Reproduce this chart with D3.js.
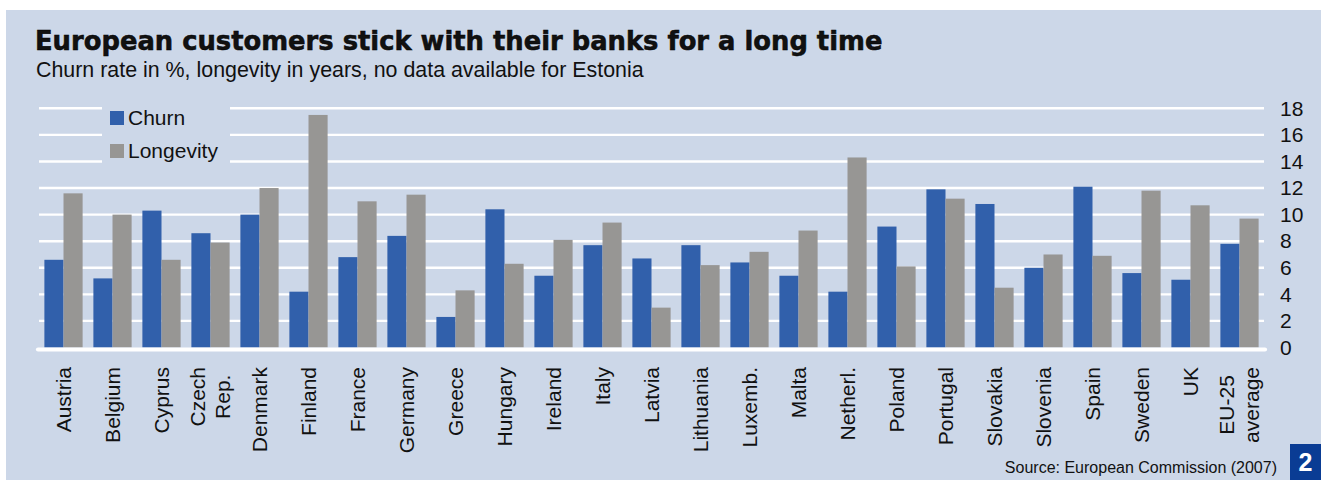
<!DOCTYPE html>
<meta charset="utf-8">
<style>
	body { margin: 0; background: #fff; }
	svg text { font-family: "Liberation Sans", Arial, sans-serif; fill: #111; }
	.title { font-family: "DejaVu Sans", sans-serif; font-weight: bold; stroke: #000; stroke-width: 0.5px; }
	.axis path { display: none; }
</style>
<body>
<script src="https://d3js.org/d3.v7.min.js"></script>
<script>

	// data
	var categories = ["Austria", "Belgium", "Cyprus", "Czech\nRep.", "Denmark", "Finland", "France", "Germany", "Greece",
		"Hungary", "Ireland", "Italy", "Latvia", "Lithuania", "Luxemb.", "Malta", "Netherl.", "Poland", "Portugal",
		"Slovakia", "Slovenia", "Spain", "Sweden", "UK", "EU-25\naverage"];
	var churn = [6.6, 5.2, 10.3, 8.6, 10.0, 4.2, 6.8, 8.4, 2.3, 10.4, 5.4, 7.7, 6.7, 7.7, 6.4, 5.4, 4.2, 9.1, 11.9,
		10.8, 6.0, 12.1, 5.6, 5.1, 7.8];
	var longevity = [11.6, 10.0, 6.6, 7.9, 12.0, 17.5, 11.0, 11.5, 4.3, 6.3, 8.1, 9.4, 3.0, 6.2, 7.2, 8.8, 14.3, 6.1, 11.2,
		4.5, 7.0, 6.9, 11.8, 10.7, 9.7];
	var seriesNames = ["Churn", "Longevity"];
	var yTicks = [0, 2, 4, 6, 8, 10, 12, 14, 16, 18];

	var colors = {"Churn": "#3160ab", "Longevity": "#979694"};
	var panelColor = "#ccd7e8";

	var W = 1321, H = 480;
	var plot = {left: 39, right: 1264, top: 108.3, bottom: 347.5};

	var rows = categories.map(function(c, i) {
		return {name: c, Churn: churn[i], Longevity: longevity[i]};
	});

	var svg = d3.select("body").append("svg")
		.attr("width", W)
		.attr("height", H);

	// background panel
	svg.append("rect")
		.attr("x", 6).attr("y", 10)
		.attr("width", W - 6).attr("height", H - 10)
		.attr("fill", panelColor);

	svg.append("text")
		.attr("class", "title")
		.attr("x", 35).attr("y", 50)
		.style("font-size", "25.8px")
		.text("European customers stick with their banks for a long time");

	svg.append("text")
		.attr("x", 36).attr("y", 77)
		.style("font-size", "21.4px")
		.text("Churn rate in %, longevity in years, no data available for Estonia");

	var x = d3.scaleBand()
		.domain(categories)
		.range([plot.left, plot.right])
		.paddingInner(0.22)
		.paddingOuter(0.11);

	var x1 = d3.scaleBand()
		.domain(seriesNames)
		.range([0, x.bandwidth()]);

	var y = d3.scaleLinear()
		.domain([0, 18])
		.range([plot.bottom, plot.top]);

	// gridlines
	svg.append("g").selectAll("line")
		.data(yTicks.slice(1))
		.enter().append("line")
		.attr("x1", plot.left).attr("x2", plot.right)
		.attr("y1", function(d) { return y(d); })
		.attr("y2", function(d) { return y(d); })
		.attr("stroke", "#fff")
		.attr("stroke-width", 2.4);

	// bars
	svg.append("g").selectAll("g")
		.data(rows)
		.enter().append("g")
		.attr("transform", function(d) { return "translate(" + x(d.name) + ",0)"; })
		.selectAll("rect")
		.data(function(d) { return seriesNames.map(function(k) { return {key: k, value: d[k]}; }); })
		.enter().append("rect")
		.attr("x", function(d) { return x1(d.key); })
		.attr("width", x1.bandwidth())
		.attr("y", function(d) { return y(d.value); })
		.attr("height", function(d) { return y(0) - y(d.value); })
		.attr("fill", function(d) { return colors[d.key]; });

	// zero line
	svg.append("line")
		.attr("x1", plot.left - 1).attr("x2", plot.right + 1)
		.attr("y1", y(0) + 2).attr("y2", y(0) + 2)
		.attr("stroke", "#fff")
		.attr("stroke-width", 4.2)
		.attr("stroke-linecap", "round");

	// right axis labels
	svg.append("g")
		.attr("class", "axis")
		.attr("transform", "translate(" + plot.right + ",0)")
		.call(d3.axisRight(y).tickValues(yTicks).tickSize(0).tickPadding(16).tickFormat(d3.format("d")))
		.selectAll("text")
		.style("font-size", "21px")
		.style("font-family", "'Liberation Sans', Arial, sans-serif")
		.attr("fill", "#111");

	// category labels, rotated, top aligned
	var labelTop = 367;
	var lab = svg.append("g").selectAll("g")
		.data(categories)
		.enter().append("g")
		.attr("transform", function(d) { return "translate(" + (x(d) + x.bandwidth() / 2) + "," + labelTop + ") rotate(-90)"; });

	lab.each(function(d) {
		var g = d3.select(this);
		var lines = d.split("\n");
		var texts = lines.map(function(l, i) {
			return g.append("text")
				.style("font-size", "21px")
				.attr("y", (i - (lines.length - 1) / 2) * 25)
				.attr("dy", "0.35em")
				.text(l);
		});
		var maxLen = d3.max(texts, function(t) { return t.node().getComputedTextLength(); });
		texts.forEach(function(t) {
			t.attr("text-anchor", "middle").attr("x", -maxLen / 2);
		});
	});

	// legend
	svg.append("rect")
		.attr("x", 102).attr("y", 98)
		.attr("width", 128).attr("height", 74)
		.attr("fill", panelColor);

	var leg = svg.append("g").selectAll("g")
		.data(seriesNames)
		.enter().append("g")
		.attr("transform", function(d, i) { return "translate(110," + (111 + i * 33) + ")"; });

	leg.append("rect")
		.attr("width", 14).attr("height", 14)
		.attr("fill", function(d) { return colors[d]; });

	leg.append("text")
		.attr("x", 18).attr("y", 14)
		.style("font-size", "21px")
		.text(function(d) { return d; });

	// source
	svg.append("text")
		.attr("x", 1277).attr("y", 473)
		.attr("text-anchor", "end")
		.style("font-size", "16px")
		.attr("fill", "#222")
		.text("Source: European Commission (2007)");

	// page number tab
	svg.append("rect")
		.attr("x", 1290).attr("y", 444)
		.attr("width", 31).attr("height", 36)
		.attr("fill", "#0a3c94");

	svg.append("text")
		.attr("x", 1305.5).attr("y", 471)
		.attr("text-anchor", "middle")
		.style("font-size", "25px")
		.style("font-weight", "bold")
		.style("fill", "#fff")
		.text("2");

</script>
</body>
